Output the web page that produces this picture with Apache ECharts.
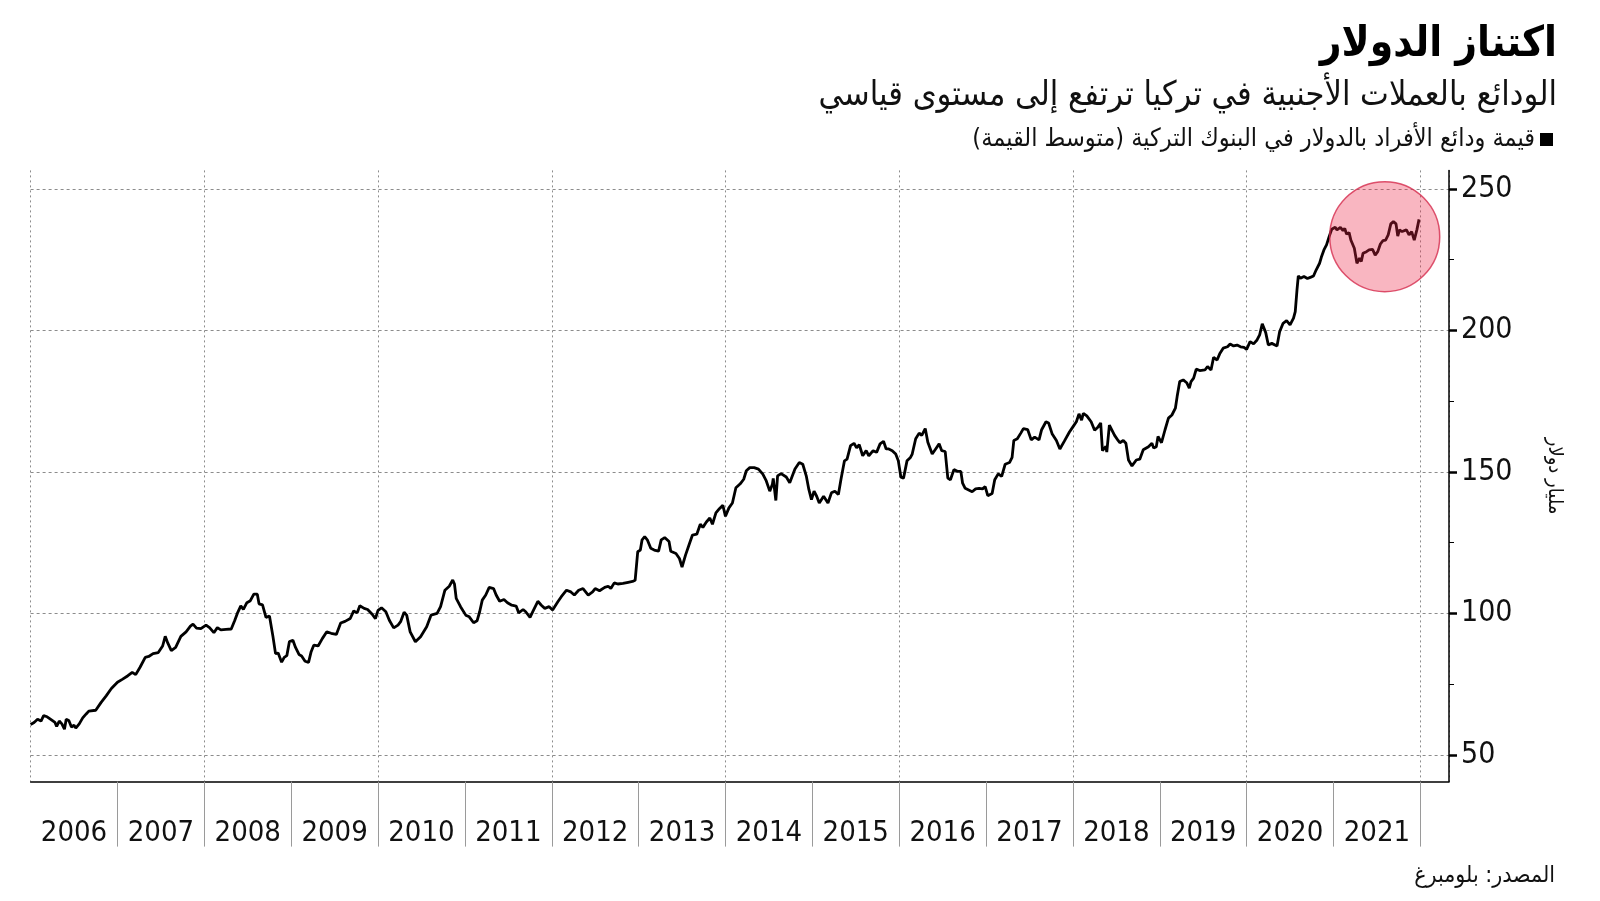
<!DOCTYPE html>
<html>
<head>
<meta charset="utf-8">
<script src="https://cdn.jsdelivr.net/npm/echarts@6/dist/echarts.min.js"></script>
<style>
html,body{margin:0;padding:0;background:#fff;}
#chart{width:1600px;height:901px;}
</style>
</head>
<body>
<div id="chart" dir="rtl"></div>
<script>
const titleText = 'اكتناز الدولار';
const subtitleText = 'الودائع بالعملات الأجنبية في تركيا ترتفع إلى مستوى قياسي';
const seriesName = 'قيمة ودائع الأفراد بالدولار في البنوك التركية (متوسط القيمة)';
const sourceText = 'المصدر: بلومبرغ';
const unitText = 'مليار دولار';

const years = [2006,2007,2008,2009,2010,2011,2012,2013,2014,2015,2016,2017,2018,2019,2020,2021];
const yearBoundaries = [2007,2008,2009,2010,2011,2012,2013,2014,2015,2016,2017,2018,2019,2020,2021,2022];
const yTicks = [50,100,150,200,250];
const yMinorTicks = [75,125,175,225];

// [decimal year, billion USD]
const deposits = [
[2006.00,60.8],[2006.04,61.5],[2006.08,62.6],[2006.12,62.0],[2006.15,63.9],[2006.19,63.5],[2006.24,62.4],[2006.28,61.5],
[2006.30,60.1],[2006.33,62.0],[2006.36,61.0],[2006.39,59.1],[2006.41,62.6],[2006.44,62.2],[2006.47,59.9],[2006.50,60.5],
[2006.52,59.5],[2006.56,61.0],[2006.60,63.1],[2006.64,64.5],[2006.67,65.5],[2006.75,65.8],[2006.81,68.5],[2006.87,70.9],
[2006.93,73.5],[2007.00,75.7],[2007.06,76.8],[2007.12,78.0],[2007.17,79.2],[2007.21,78.4],[2007.26,81.0],[2007.32,84.5],
[2007.36,84.8],[2007.41,85.8],[2007.47,86.2],[2007.52,88.5],[2007.55,91.9],[2007.58,89.5],[2007.62,86.9],[2007.67,88.0],
[2007.73,91.9],[2007.79,93.5],[2007.84,95.5],[2007.87,96.2],[2007.91,94.8],[2007.96,94.6],[2008.02,95.9],[2008.06,95.0],
[2008.11,93.2],[2008.15,95.0],[2008.17,95.5],[2008.19,94.2],[2008.25,94.4],[2008.31,94.5],[2008.35,97.5],[2008.38,100.0],
[2008.42,102.7],[2008.45,101.4],[2008.49,103.8],[2008.53,104.5],[2008.57,106.8],[2008.61,106.8],[2008.63,103.4],[2008.67,103.0],
[2008.71,98.6],[2008.75,99.1],[2008.79,91.9],[2008.82,85.8],[2008.85,86.0],[2008.89,82.8],[2008.92,84.5],[2008.95,85.1],
[2008.98,90.1],[2009.02,90.5],[2009.05,88.0],[2009.09,85.5],[2009.12,85.0],[2009.16,83.1],[2009.20,82.7],[2009.23,86.5],
[2009.26,88.8],[2009.31,88.5],[2009.36,91.2],[2009.41,93.5],[2009.46,93.0],[2009.52,92.6],[2009.57,96.6],[2009.62,97.2],
[2009.68,98.2],[2009.72,100.9],[2009.76,100.2],[2009.79,102.7],[2009.84,101.8],[2009.88,101.4],[2009.93,99.8],[2009.97,98.2],
[2010.00,101.1],[2010.04,102.0],[2010.09,100.6],[2010.13,97.6],[2010.18,94.9],[2010.23,95.9],[2010.26,97.1],[2010.30,100.4],
[2010.33,99.4],[2010.37,93.5],[2010.43,90.0],[2010.49,91.8],[2010.56,95.3],[2010.61,99.4],[2010.68,100.0],[2010.72,102.4],
[2010.77,108.2],[2010.82,109.6],[2010.86,111.8],[2010.88,110.4],[2010.90,105.3],[2010.95,102.4],[2011.01,99.4],[2011.05,98.8],
[2011.10,96.7],[2011.14,97.4],[2011.17,100.6],[2011.20,104.7],[2011.24,106.5],[2011.28,109.2],[2011.33,108.8],[2011.36,106.5],
[2011.40,104.3],[2011.45,104.9],[2011.49,103.8],[2011.54,102.9],[2011.59,102.6],[2011.62,100.2],[2011.67,101.4],[2011.70,100.6],
[2011.75,98.6],[2011.79,101.2],[2011.84,104.3],[2011.88,102.9],[2011.92,101.8],[2011.97,102.4],[2012.01,101.2],[2012.07,104.1],
[2012.11,105.9],[2012.17,108.2],[2012.22,107.6],[2012.26,106.5],[2012.31,108.2],[2012.36,108.8],[2012.42,106.5],[2012.47,107.6],
[2012.50,108.8],[2012.55,108.0],[2012.61,109.2],[2012.65,109.6],[2012.68,108.8],[2012.72,110.8],[2012.76,110.4],[2012.82,110.6],
[2012.88,111.0],[2012.93,111.3],[2012.96,111.7],[2012.99,121.8],[2013.02,122.4],[2013.04,126.0],[2013.07,127.1],[2013.10,126.0],
[2013.14,123.0],[2013.18,122.4],[2013.23,122.0],[2013.26,126.0],[2013.30,126.8],[2013.35,125.4],[2013.37,122.0],[2013.43,121.2],
[2013.47,119.4],[2013.50,116.4],[2013.54,120.6],[2013.58,124.2],[2013.62,127.7],[2013.67,128.0],[2013.71,131.5],[2013.74,130.4],
[2013.78,132.3],[2013.82,133.7],[2013.85,131.5],[2013.89,135.5],[2013.93,137.0],[2013.97,138.2],[2014.00,134.3],[2014.04,137.3],
[2014.08,139.0],[2014.12,144.4],[2014.17,145.8],[2014.21,147.4],[2014.24,150.4],[2014.28,151.5],[2014.33,151.5],[2014.38,151.0],
[2014.43,149.2],[2014.47,146.8],[2014.51,143.2],[2014.54,145.6],[2014.55,147.7],[2014.58,139.9],[2014.60,148.6],[2014.64,149.4],
[2014.70,148.2],[2014.74,146.2],[2014.80,151.0],[2014.85,153.3],[2014.89,152.7],[2014.93,148.6],[2014.96,143.8],[2014.99,140.2],
[2015.02,143.2],[2015.05,141.4],[2015.08,139.0],[2015.13,141.4],[2015.18,139.0],[2015.22,142.6],[2015.26,143.2],[2015.30,142.0],
[2015.33,147.4],[2015.37,153.9],[2015.40,154.5],[2015.44,159.3],[2015.48,160.1],[2015.51,158.5],[2015.54,159.6],[2015.58,155.7],
[2015.62,157.5],[2015.65,155.7],[2015.70,157.5],[2015.74,156.9],[2015.78,159.9],[2015.82,160.8],[2015.85,158.1],[2015.88,158.1],
[2015.92,157.5],[2015.96,156.3],[2015.99,153.9],[2016.02,148.1],[2016.05,147.8],[2016.09,153.9],[2016.13,155.1],[2016.15,156.3],
[2016.19,161.7],[2016.23,163.7],[2016.26,162.9],[2016.30,165.3],[2016.33,160.5],[2016.38,156.3],[2016.42,158.1],[2016.46,159.9],
[2016.49,157.5],[2016.53,157.2],[2016.56,147.8],[2016.59,147.2],[2016.63,150.8],[2016.67,150.2],[2016.71,150.2],[2016.73,146.0],
[2016.76,144.2],[2016.80,143.6],[2016.84,143.0],[2016.88,144.0],[2016.92,144.2],[2016.96,144.0],[2016.99,144.8],[2017.02,141.6],
[2017.07,142.4],[2017.10,147.2],[2017.14,149.3],[2017.18,148.4],[2017.22,152.7],[2017.27,153.3],[2017.30,155.1],[2017.32,161.1],
[2017.36,161.7],[2017.40,163.7],[2017.43,165.3],[2017.48,164.9],[2017.52,161.3],[2017.56,162.3],[2017.61,161.3],[2017.64,164.9],
[2017.69,167.7],[2017.72,167.3],[2017.76,163.5],[2017.81,161.1],[2017.85,158.1],[2017.90,160.8],[2017.96,164.1],[2018.00,165.9],
[2018.04,167.7],[2018.07,170.5],[2018.10,168.3],[2018.12,170.7],[2018.16,169.8],[2018.21,167.7],[2018.25,164.7],[2018.29,165.9],
[2018.32,167.3],[2018.34,157.5],[2018.36,157.2],[2018.38,159.0],[2018.39,157.0],[2018.42,166.5],[2018.44,167.1],[2018.48,162.9],
[2018.52,161.1],[2018.54,160.3],[2018.58,161.1],[2018.61,160.1],[2018.64,154.2],[2018.68,152.1],[2018.70,151.7],[2018.73,154.2],
[2018.77,154.5],[2018.81,157.8],[2018.87,158.9],[2018.91,160.1],[2018.93,158.4],[2018.96,158.9],[2018.98,162.5],[2019.02,160.3],
[2019.06,164.8],[2019.10,169.0],[2019.14,170.1],[2019.18,172.5],[2019.20,176.6],[2019.23,181.9],[2019.27,182.5],[2019.31,181.5],
[2019.34,179.6],[2019.36,181.9],[2019.39,183.1],[2019.42,186.3],[2019.46,185.8],[2019.48,186.3],[2019.52,186.0],[2019.55,187.2],
[2019.59,186.0],[2019.62,190.5],[2019.66,189.5],[2019.69,191.7],[2019.73,193.7],[2019.78,194.2],[2019.81,195.2],[2019.85,194.5],
[2019.89,194.8],[2019.93,194.2],[2019.97,194.0],[2020.00,193.3],[2020.04,196.0],[2020.08,195.2],[2020.12,196.6],[2020.15,198.4],
[2020.18,202.3],[2020.22,199.2],[2020.25,194.8],[2020.29,195.4],[2020.35,194.5],[2020.38,199.5],[2020.42,202.5],[2020.46,203.4],
[2020.50,201.9],[2020.54,204.3],[2020.56,206.6],[2020.58,214.3],[2020.595,219.2],[2020.62,218.4],[2020.66,219.0],[2020.70,218.3],
[2020.74,218.8],[2020.77,219.2],[2020.80,221.3],[2020.84,223.7],[2020.86,225.8],[2020.89,228.4],[2020.92,230.2],[2020.95,233.1],
[2020.98,235.7],[2021.02,236.4],[2021.04,235.5],[2021.08,236.4],[2021.11,235.2],[2021.13,236.0],[2021.15,234.0],[2021.18,234.5],
[2021.20,231.9],[2021.22,231.3],[2021.24,229.0],[2021.26,225.5],[2021.27,223.7],[2021.30,225.5],[2021.32,224.3],[2021.34,227.2],
[2021.38,227.8],[2021.41,228.4],[2021.45,228.6],[2021.48,226.6],[2021.51,227.8],[2021.54,230.5],[2021.57,231.7],[2021.60,231.9],
[2021.63,233.7],[2021.66,237.6],[2021.69,238.4],[2021.72,237.6],[2021.74,233.3],[2021.76,235.5],[2021.79,234.9],[2021.81,234.3],
[2021.84,235.5],[2021.87,233.7],[2021.90,234.9],[2021.93,231.9],[2021.96,235.5],[2021.985,239.2]
];

const highlight = [[2021.59, 233.1]];

const arabicFont = '"DejaVu Sans Condensed", "DejaVu Sans", sans-serif';
const numFont = '"Liberation Sans Narrow", "DejaVu Sans Condensed", sans-serif';
const xMin = 2006, xMax = 2022.33, yMin = 40.6, yMax = 256.5;

const chart = echarts.init(document.getElementById('chart'), null, {renderer: 'canvas'});
chart.setOption({
  animation: false,
  backgroundColor: '#ffffff',
  title: [
    {text: titleText, right: 38, top: 19, textStyle: {fontSize: 42, fontWeight: 'bold', color: '#000', fontFamily: arabicFont}},
    {text: subtitleText, right: 38, top: 74, textStyle: {fontSize: 34, fontWeight: 'normal', color: '#111', fontFamily: arabicFont}},
    {text: sourceText, right: 40, top: 860, textStyle: {fontSize: 23, fontWeight: 'normal', color: '#111', fontFamily: arabicFont}}
  ],
  legend: {
    data: [seriesName], right: 42, top: 122, icon: 'rect', itemWidth: 13, itemHeight: 13, align: 'right',
    selectedMode: false,
    textStyle: {fontSize: 25, color: '#111', fontFamily: arabicFont}
  },
  grid: {left: 30.6, right: 151, top: 170.4, bottom: 119.4, outerBoundsMode: 'none', containLabel: false},
  xAxis: [
    {
      type: 'value', min: xMin, max: xMax, position: 'bottom',
      axisLine: {show: true, lineStyle: {color: '#000', width: 1.5}},
      axisTick: {show: true, customValues: yearBoundaries, length: 65, lineStyle: {color: '#9a9a9a', width: 1}},
      axisLabel: {show: true, customValues: years.map(y => y + 0.5), formatter: v => String(Math.floor(v)),
        margin: 37, fontSize: 29, color: '#111', fontFamily: numFont},
      splitLine: {show: false}
    },
    {
      type: 'value', min: xMin, max: xMax, position: 'bottom', interval: 2,
      axisLine: {show: false}, axisTick: {show: false}, axisLabel: {show: false},
      splitLine: {show: true, lineStyle: {color: '#8c8c8c', width: 1, type: [2, 3]}}
    }
  ],
  yAxis: [
    {
      type: 'value', position: 'right', min: yMin, max: yMax,
      axisLine: {show: true, lineStyle: {color: '#000', width: 1.5}},
      axisTick: {show: true, customValues: yTicks, length: 8, lineStyle: {color: '#000', width: 2.5}},
      axisLabel: {show: true, customValues: yTicks, margin: 12, fontSize: 30, color: '#111', fontFamily: numFont},
      splitLine: {show: true, lineStyle: {color: '#8c8c8c', width: 1, type: [3, 3]}},
      name: unitText, nameLocation: 'middle', nameRotate: -90, nameGap: 95,
      nameTextStyle: {fontSize: 20, color: '#111', fontFamily: arabicFont}
    },
    {
      type: 'value', position: 'right', min: yMin, max: yMax,
      axisLine: {show: false},
      axisTick: {show: true, customValues: yMinorTicks, length: 5, lineStyle: {color: '#000', width: 1}},
      axisLabel: {show: false}, splitLine: {show: false}
    }
  ],
  series: [
    {
      type: 'line', name: seriesName, data: deposits, xAxisIndex: 0, yAxisIndex: 0,
      showSymbol: false, symbol: 'none', smooth: false,
      lineStyle: {color: '#000', width: 2.8}, itemStyle: {color: '#000'}, z: 3
    },
    {
      type: 'scatter', name: 'highlight', data: highlight, xAxisIndex: 0, yAxisIndex: 0,
      symbol: 'circle', symbolSize: 110, silent: true, z: 6,
      itemStyle: {color: 'rgba(236,40,70,0.42)', borderColor: '#d42a4c', borderWidth: 1.5}
    }
  ]
});
</script>
</body>
</html>
